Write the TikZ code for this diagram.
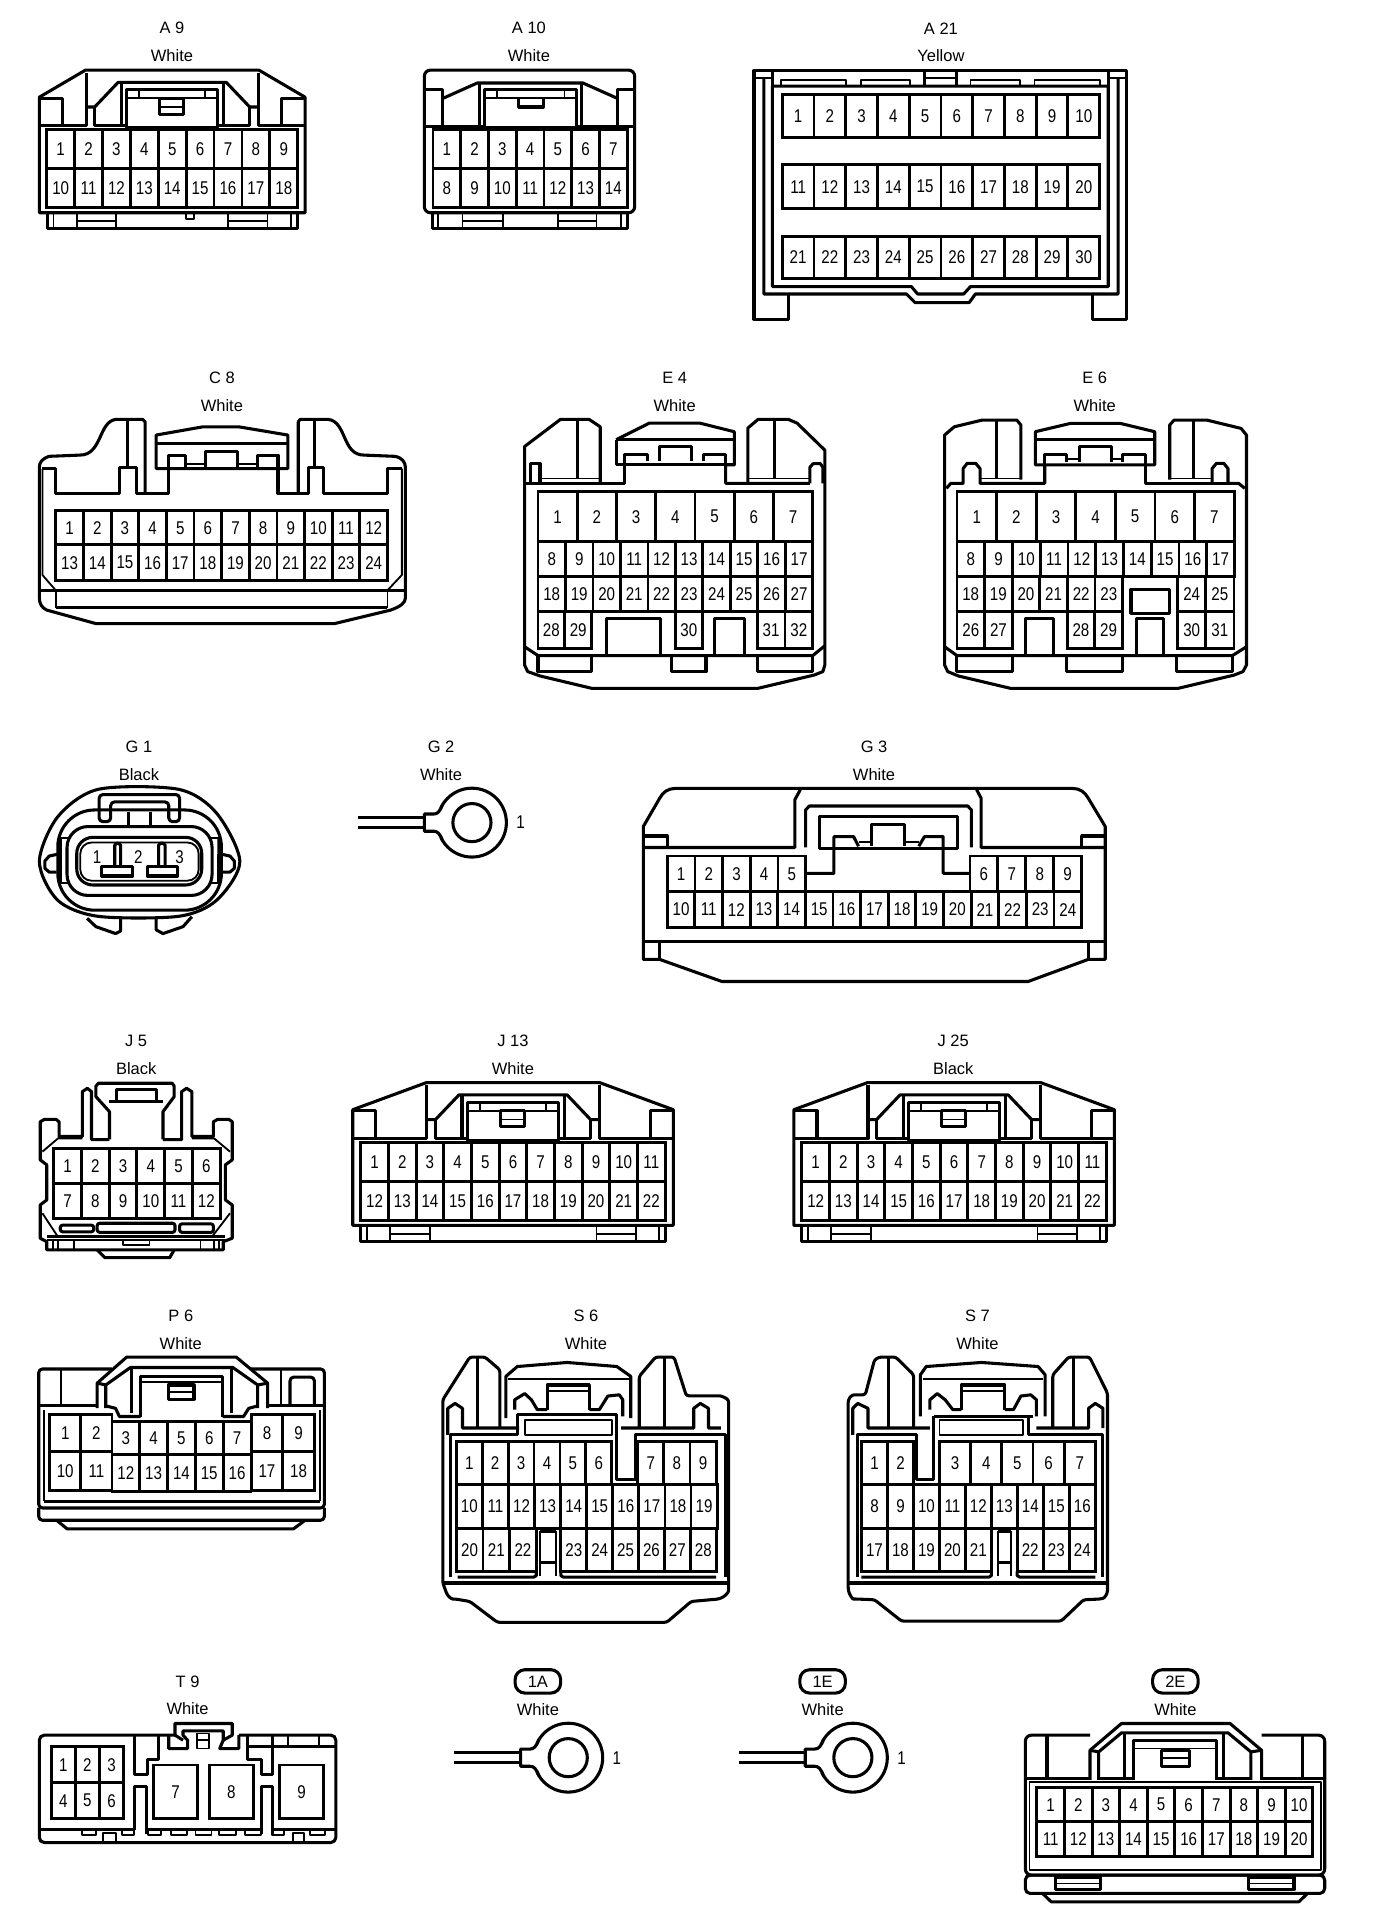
\documentclass[tikz,border=0pt]{standalone}
\usepackage{fontspec}
\setmainfont{Liberation Sans}
\newfontfamily\pinfont[FakeStretch=0.82]{Liberation Sans}
\usepackage{tikz}

\tikzset{
	body/.style={line width=2.5pt,line join=round},
	thinline/.style={line width=1.5pt,line join=round},
	pin/.style={line width=2.3pt,line join=miter},
	pinno/.style={font=\pinfont\fontsize{15}{15}\selectfont,inner sep=0pt},
	caption/.style={font=\fontsize{13.4}{14}\selectfont,inner sep=0pt},
	pill/.style={draw,line width=2.5pt,rounded corners=8pt,minimum width=37pt,minimum height=19pt,inner sep=0pt,font=\fontsize{13.4}{14}\selectfont}
}

% one row of numbered cavities: name, x, cell width, top, bottom, first, last
\newcommand{\pinrow}[7]{
	\foreach \n [count=\k from 0] in {#6,...,#7} {
		\pgfmathsetmacro{\xa}{#2+\k*#3}
		\pgfmathsetmacro{\xb}{#2+(\k+1)*#3}
		\draw[pin] (\xa,#4) rectangle (\xb,#5) node[pinno,midway] (#1-\n) {\n};
	}
}
% connector name and colour
\newcommand{\conntag}[5]{
	\node[caption] (#1-name) at (#2,#3) {#4};
	\node[caption] (#1-colour) at (#2,#3+22.5) {#5};
}
% housing with the sloped shoulders, drawn about its centre line
\newcommand{\wedgehousing}[1]{
	\draw[body] (-#1,22) -- (-70.5,0) -- (70.5,0) -- (#1,22) -- (#1,116) -- (-#1,116) -- cycle;
	\draw[body] (-#1,23) -- (-#1+18.8,23) -- (-#1+18.8,45.4);
	\draw[body] (#1,23) -- (#1-18.8,23) -- (#1-18.8,45.4);
	\draw[body] (-#1,45.4) -- (-70,45.4) -- (-70,2);
	\draw[body] (#1,45.4) -- (70,45.4) -- (70,2);
	\draw[body] (-70,30) -- (-63,30) -- (-44,10) -- (44,10) -- (63,30) -- (70,30);
	\draw[body] (-63,30) -- (-63,45.4) -- (-37,45.4);
	\draw[body] (63,30) -- (63,45.4) -- (37,45.4);
	\draw[body] (-41.5,10) -- (-41.5,45);
	\draw[body] (41.5,10) -- (41.5,45);
	\draw[body] (-37,46.8) -- (-37,16) -- (37,16) -- (37,46.8) -- cycle;
	\draw[thinline] (-37,23) -- (37,23);
	\draw[thinline] (-27,16) -- (-27,23);
	\draw[thinline] (27,16) -- (27,23);
	\draw[body] (-10.5,23) rectangle (9.5,36);
	\draw[thinline] (-10.5,30) -- (9.5,30);
	\draw[body] (-#1+6.5,116) rectangle (#1-6.5,129);
	\draw[thinline] (-#1+11.5,116) -- (-#1+11.5,129);
	\draw[thinline] (#1-11.5,116) -- (#1-11.5,129);
	\draw[thinline] (-#1+30.5,116) -- (-#1+30.5,129);
	\draw[thinline] (-#1+62.5,116) -- (-#1+62.5,129);
	\draw[thinline] (-#1+30.5,123) -- (-#1+62.5,123);
	\draw[thinline] (#1-30.5,116) -- (#1-30.5,129);
	\draw[thinline] (#1-62.5,116) -- (#1-62.5,129);
	\draw[thinline] (#1-30.5,123) -- (#1-62.5,123);
}
% eyelet terminal on its wire
\newcommand{\ringlug}[3]{
	\begin{scope}[shift={(#2,#3)}]
		\draw[body] (-92.7,-4) -- (-38.7,-4);
		\draw[body] (-92.7,4) -- (-38.7,4);
		\draw[body,fill=white] (0,0) circle[radius=28pt];
		\fill[white] (-38.7,-7) -- (-31,-7) -- (-23.7,-15) -- (-12,0) -- (-23.7,15) -- (-31,7) -- (-38.7,7) -- cycle;
		\draw[body] (-23.7,-15) .. controls (-26,-9) and (-28,-7) .. (-31,-7) -- (-38.7,-7) -- (-38.7,7) -- (-31,7) .. controls (-28,7) and (-26,9) .. (-23.7,15);
		\draw[body] (0,0) circle[radius=15.5pt];
		\node[pinno] (#1-pin) at (39.5,0) {1};
	\end{scope}
}

\begin{document}
\begin{tikzpicture}[x=1pt,y=-1pt]
	\useasboundingbox (0,0) rectangle (1118.7,1567.5);

	% A 9
	\conntag{A9}{139.8}{23}{A 9}{White}
	\begin{scope}[shift={(140,57)}]
		\wedgehousing{108}
	\end{scope}
	\draw[thinline] (151,173) -- (151,178) -- (158,178) -- (158,173);
	\pinrow{A9}{38}{22.67}{105}{137}{1}{9}
	\pinrow{A9}{38}{22.67}{137}{169}{10}{18}

	% A 10
	\conntag{A10}{430}{23}{A 10}{White}
	\draw[body,rounded corners=5pt] (345,173) -- (345,57) -- (516,57) -- (516,173) -- cycle;
	\draw[body] (345,73) -- (360,73) -- (360,102);
	\draw[body] (516,73) -- (502,73) -- (502,102);
	\draw[body] (345,102.6) -- (394,102.6);
	\draw[body] (469,102.6) -- (516,102.6);
	\draw[body] (360,80) -- (388,67.5) -- (474,67.5) -- (502,80);
	\draw[body] (389.5,67.5) -- (389.5,102);
	\draw[body] (472.5,67.5) -- (472.5,102);
	\draw[body] (394,104) rectangle (469,73);
	\draw[thinline] (394,80) -- (469,80);
	\draw[thinline] (404,73) -- (404,80);
	\draw[thinline] (459,73) -- (459,80);
	\draw[body] (421.6,80) -- (421.6,87) -- (441.6,87) -- (441.6,80);
	\pinrow{A10}{352}{22.57}{105}{137}{1}{7}
	\pinrow{A10}{352}{22.57}{137}{169}{8}{14}
	\draw[body] (352,173) rectangle (510,186);
	\draw[thinline] (356,173) -- (356,186);
	\draw[thinline] (505,173) -- (505,186);
	\draw[thinline] (376,173) -- (376,186);
	\draw[thinline] (409,173) -- (409,186);
	\draw[thinline] (376,180) -- (409,180);
	\draw[thinline] (454,173) -- (454,186);
	\draw[thinline] (485,173) -- (485,186);
	\draw[thinline] (454,180) -- (485,180);

	% A 21
	\conntag{A21}{765}{23}{A 21}{Yellow}
	\draw[body] (641,240) -- (641,259.5) -- (613,259.5) -- (613,57.5) -- (916,57.5) -- (916,259.5) -- (888.5,259.5) -- (888.5,240);
	\draw[body] (621,63.5) -- (621,239) -- (737,239) -- (744,246) -- (788,246) -- (793,239) -- (909,239) -- (909,63.5);
	\draw[body] (628,70) -- (901,70) -- (901,233) -- (789,233) -- (783.5,239) -- (746,239) -- (741,233) -- (628,233) -- cycle;
	\draw[body] (628,57.5) -- (628,70);
	\draw[body] (901,57.5) -- (901,70);
	\draw[thinline] (613,63.5) -- (628,63.5);
	\draw[thinline] (901,63.5) -- (916,63.5);
	\draw[thinline] (635,70) -- (635,65) -- (688,65) -- (688,70);
	\draw[thinline] (700,70) -- (700,65) -- (740,65) -- (740,70);
	\draw[thinline] (789,70) -- (789,65) -- (829,65) -- (829,70);
	\draw[thinline] (841,70) -- (841,65) -- (894,65) -- (894,70);
	\draw[body] (751.5,57.5) -- (751.5,70);
	\draw[body] (778,57.5) -- (778,70);
	\draw[thinline] (751.5,63.5) -- (778,63.5);
	\pinrow{A21}{636}{25.8}{77}{111.5}{1}{10}
	\pinrow{A21}{636}{25.8}{134}{169.6}{11}{20}
	\pinrow{A21}{636}{25.8}{192}{226.5}{21}{30}

	% C 8
	\conntag{C8}{180.4}{307}{C 8}{White}
	\draw[body] (118,401) -- (118,343) -- (116,341) -- (94,341) .. controls (80,343) and (83,370) .. (65,370) -- (40,371) .. controls (34,373) and (32,376) .. (32,380) -- (32,486) .. controls (32,491) and (34,494) .. (38,496) -- (78,507) -- (272,507) -- (317.6,496) .. controls (326,493) and (329.6,490) .. (329.6,486) -- (329.6,380) .. controls (329.6,376) and (327,372) .. (321,371) -- (296,370) .. controls (278,370) and (282,343) .. (267,341) -- (244,341) -- (242.5,343) -- (242.5,401);
	\draw[thinline] (34.5,381) -- (34.5,467.5) -- (45.4,480);
	\draw[thinline] (326.7,381) -- (326.7,467.5) -- (315,480);
	\draw[body] (34.5,381) -- (45.4,381) -- (45.4,401) -- (97,401) -- (97,380) -- (110.7,380) -- (110.7,401) -- (137,401) -- (137,370) -- (150.6,370) -- (150.6,380);
	\draw[body] (326.7,381) -- (315,381) -- (315,401) -- (263,401) -- (263,380) -- (250.5,380) -- (250.5,401) -- (226,401) -- (226,370) -- (209,370) -- (209,380);
	\draw[body] (103.5,341) -- (103.5,380);
	\draw[body] (256,341) -- (256,380);
	\draw[body] (127,353.7) -- (165,347) -- (194,347) -- (234,353.7) -- (234,381) -- (127,381) -- cycle;
	\draw[body] (127,360.5) -- (234,360.5);
	\draw[body] (167,380) -- (167,367) -- (193,367) -- (193,380);
	\draw[thinline] (150.6,377) -- (167,377);
	\draw[thinline] (193,377) -- (209,377);
	\pinrow{C8}{45.4}{22.47}{415.2}{443}{1}{12}
	\pinrow{C8}{45.4}{22.47}{443}{472}{13}{24}
	\draw[body] (32,480) -- (329.6,480);
	\draw[body] (45.4,494) -- (315,494);
	\draw[thinline] (45.4,480) -- (45.4,494);
	\draw[thinline] (315,480) -- (315,494);

	% E 4
	\conntag{E4}{548.5}{307}{E 4}{White}
	\draw[body] (488,392) -- (488,347) -- (479,341) -- (455.6,341) -- (426.5,363) -- (426.5,540.7) -- (429,546) -- (439.2,549.6) -- (481,559.6) -- (616.3,559.6) -- (662,548.8) -- (669,546) -- (670.6,540.7) -- (670.6,366) -- (648,344) -- (641,341) -- (616.3,341) -- (608,348) -- (608,392);
	\draw[body] (501,357.5) -- (528,344) -- (569,344) -- (597,351) -- (597,378) -- (590,378) -- (590,393) -- (658.4,393);
	\draw[body] (501,357.5) -- (501,378) -- (507.5,378) -- (507.5,393) -- (426.5,393);
	\draw[body] (501,357.5) -- (597,357.5);
	\draw[body] (507.5,378) -- (507.5,369.4) -- (526.4,369.4) -- (526.4,375);
	\draw[body] (590,378) -- (590,369.4) -- (572,369.4) -- (572,375);
	\draw[body] (536.5,375) -- (536.5,363) -- (562,363) -- (562,375);
	\draw[body] (501,378) -- (597,378);
	\draw[body] (431,393) -- (431,377) -- (439,377) -- (439,393);
	\draw[body] (658.4,393) -- (658.4,380) -- (661,377) -- (667,377) -- (669,380) -- (669,393);
	\draw[body] (469.4,341) -- (469.4,389);
	\draw[body] (629.3,341) -- (629.3,389);
	\draw[thinline] (439,389) -- (488,389);
	\draw[thinline] (608,389) -- (658.4,389);
	\pinrow{E4}{437.4}{31.9}{399.7}{440.4}{1}{7}
	\pinrow{E4}{437.4}{22.34}{440.4}{468.9}{8}{17}
	\pinrow{E4}{437.4}{22.34}{468.9}{497.3}{18}{27}
	\pinrow{E4}{437.4}{21.8}{497.3}{527}{28}{29}
	\pinrow{E4}{549}{22}{497.3}{527}{30}{30}
	\pinrow{E4}{615.6}{22.6}{497.3}{527}{31}{32}
	\draw[body] (493,533) -- (493,502.7) -- (537,502.7) -- (537,533);
	\draw[body] (581,533) -- (581,502.7) -- (605,502.7) -- (605,533);
	\draw[body] (426.5,525.8) -- (437.4,533) -- (660.8,533) -- (670.6,525);
	\draw[body] (437.4,533) -- (437.4,546) -- (481,546) -- (481,533);
	\draw[body] (545.6,533) -- (545.6,546) -- (574,546) -- (574,533);
	\draw[body] (615.6,533) -- (615.6,546) -- (660.8,546) -- (660.8,533);

	% E 6
	\conntag{E6}{890}{307}{E 6}{White}
	\draw[body] (830,390) -- (830,345.5) -- (826.6,341.5) -- (798.6,341.5) -- (775.8,347) -- (768,353.7) -- (768,540.7) -- (770.5,546) -- (779.3,549.6) -- (821.4,559.6) -- (958,559.6) -- (1003.6,548.8) -- (1010.6,546) -- (1013.4,540.7) -- (1013.4,353.7) -- (1009,348.3) -- (981,341.5) -- (954.6,341.5) -- (951,345.5) -- (951,390);
	\draw[body] (841.7,351) -- (870.4,344.2) -- (910.7,344.2) -- (938.8,351) -- (938.8,378) -- (841.7,378) -- cycle;
	\draw[body] (841.7,357.2) -- (938.8,357.2);
	\draw[body] (849.4,378) -- (849.4,393) -- (796.8,393) -- (796.8,381) -- (793.3,376.7) -- (786.3,376.7) -- (783,381) -- (783,393) -- (773,393) -- (769.5,397);
	\draw[body] (931,378) -- (931,393) -- (998.4,393);
	\draw[body] (985.4,393) -- (985.4,381) -- (989,376.7) -- (995,376.7) -- (998.4,381) -- (998.4,393) -- (1007,393) -- (1012,397);
	\draw[body] (849.4,378) -- (849.4,369.4) -- (867,369.4) -- (867,376);
	\draw[body] (931,378) -- (931,369.4) -- (912.5,369.4) -- (912.5,376);
	\draw[body] (877.4,376) -- (877.4,363.2) -- (903.7,363.2) -- (903.7,376);
	\draw[thinline] (867,373.5) -- (877.4,373.5);
	\draw[thinline] (903.7,373.5) -- (912.5,373.5);
	\draw[body] (810,341.5) -- (810,389);
	\draw[body] (970.3,341.5) -- (970.3,389);
	\draw[thinline] (796.8,389) -- (830,389);
	\draw[thinline] (951,389) -- (985.4,389);
	\pinrow{E6}{778}{32.2}{399.7}{440.4}{1}{7}
	\pinrow{E6}{778}{22.56}{440.4}{468.9}{8}{17}
	\pinrow{E6}{778}{22.45}{468.9}{497.3}{18}{23}
	\pinrow{E6}{957.4}{22.9}{468.9}{497.3}{24}{25}
	\pinrow{E6}{778}{22.5}{497.3}{527}{26}{27}
	\pinrow{E6}{867.6}{22.45}{497.3}{527}{28}{29}
	\pinrow{E6}{957.4}{22.9}{497.3}{527}{30}{31}
	\draw[body] (919.5,479.2) rectangle (951,498.7);
	\draw[body] (833.6,533) -- (833.6,502.7) -- (856.4,502.7) -- (856.4,533);
	\draw[body] (923.7,533) -- (923.7,502.7) -- (945.8,502.7) -- (945.8,533);
	\draw[body] (768,525.8) -- (778,533) -- (1002,533) -- (1013.4,525.8);
	\draw[body] (778,533) -- (778,546) -- (823,546) -- (823,533);
	\draw[body] (867,533) -- (867,546) -- (912.5,546) -- (912.5,533);
	\draw[body] (956.3,533) -- (956.3,546) -- (1002,546) -- (1002,533);

	% G 1
	\conntag{G1}{113}{607}{G 1}{Black}
	\draw[body] plot[smooth cycle] coordinates {(32,700.5) (47,664) (80,641.7) (145,641.7) (176,661) (195,700.5) (176,732) (145,745) (80,745) (47,732)};
	\draw[body,rounded corners=30pt] (47,658.5) rectangle (180,740);
	\draw[body,rounded corners=17pt] (54.5,672) rectangle (172.4,728);
	\draw[body,rounded corners=13pt] (62.4,680.8) rectangle (164,719.5);
	\draw[thinline,rounded corners=9pt] (65.3,685) rectangle (161.5,716);
	\draw[body,rounded corners=3pt] (90,668) -- (80.6,668) -- (80.6,646) -- (146,646) -- (146,668) -- (137.2,668) -- (137.2,652) -- (90,652) -- cycle;
	\draw[thinline] (90,658.5) -- (137.2,658.5);
	\draw[body] (104.5,660) -- (104.5,672);
	\draw[body] (122.3,660) -- (122.3,672);
	\draw[body] (49,681) -- (49,694) -- (40,696) -- (36.5,700) -- (36.5,706) -- (40,709) -- (46,709);
	\draw[body] (178,681) -- (178,694) -- (187,696) -- (190.5,700) -- (190.5,706) -- (187,709) -- (181,709);
	\draw[thinline] (49,681) -- (56,681);
	\draw[thinline] (49,718) -- (56,718);
	\draw[thinline] (171,681) -- (178,681);
	\draw[thinline] (171,718) -- (178,718);
	\draw[body] (49,694) -- (49,718);
	\draw[body] (178,694) -- (178,718);
	\draw[body,rounded corners=1.5pt] (93.3,704) -- (93.3,685.6) -- (98,685.6) -- (98,704);
	\draw[body,rounded corners=1.5pt] (128.9,704) -- (128.9,685.6) -- (134.3,685.6) -- (134.3,704);
	\draw[body] (82.8,704.6) rectangle (107.8,712.2);
	\draw[body] (119.8,704.6) rectangle (144.5,712.2);
	\draw[body] (70.8,746.6) -- (78,753.4) -- (94,759) -- (98,757) -- (98,746);
	\draw[body] (127,746) -- (127,756) -- (132.5,759) -- (148.8,753.4) -- (156,745.3);
	\node[pinno] (G1-1) at (79,697) {1};
	\node[pinno] (G1-2) at (112.5,697) {2};
	\node[pinno] (G1-3) at (146,697) {3};

	% G 2
	\conntag{G2}{358.6}{607}{G 2}{White}
	\ringlug{G2}{383.7}{668.8}

	% G 3
	\conntag{G3}{710.6}{607}{G 3}{White}
	\draw[body] (523,780) -- (523,672) -- (536.3,649) .. controls (539,644) and (543,641) .. (549,641) -- (872,641) .. controls (878,641) and (882,644) .. (884.8,649) -- (898.6,672) -- (898.6,780) -- (884.8,780) -- (835.8,798) -- (587,798) -- (536.3,780) -- cycle;
	\draw[body] (523,689) -- (646.3,689) -- (646.3,650) -- (650.7,642);
	\draw[body] (898.6,689) -- (797.7,689) -- (797.7,649) -- (794,642);
	\draw[body] (523,679.7) -- (542.5,679.7) -- (542.5,689);
	\draw[body] (898.6,679.7) -- (879.4,679.7) -- (879.4,689);
	\draw[body] (655,689) -- (655,658.5) -- (658,655.3) -- (786.8,655.3) -- (789.7,658.5) -- (789.7,689);
	\draw[body] (666,664) rectangle (778.5,689.7);
	\draw[body] (655,710) -- (678,710) -- (678,680.2) -- (694,680.2) -- (698,688);
	\draw[body] (788.6,710) -- (766.8,710) -- (766.8,680.2) -- (751.6,680.2) -- (747,688);
	\draw[body] (708.8,688) -- (708.8,670) -- (735,670) -- (735,688);
	\draw[thinline] (698,684.3) -- (708.8,684.3);
	\draw[thinline] (735,684.3) -- (747,684.3);
	\pinrow{G3}{542.5}{22.5}{696}{725}{1}{5}
	\pinrow{G3}{788.6}{22.7}{696}{725}{6}{9}
	\pinrow{G3}{542.5}{22.46}{725}{754}{10}{24}
	\draw[body] (523,765.6) -- (898.6,765.6);
	\draw[body] (536.3,766) -- (536.3,780);
	\draw[body] (884.8,766) -- (884.8,780);

	% J 5
	\conntag{J5}{110.7}{846}{J 5}{Black}
	\draw[body] (89,926.3) -- (89,903.8) -- (78,891.6) -- (78,883) -- (80,880.7) -- (140,880.7) -- (141.6,883) -- (141.6,891.6) -- (132.5,903.8) -- (132.5,926.3);
	\draw[body] (89,926.5) -- (74.4,926.5) -- (74.4,887.5) -- (71,884.8) -- (67,887.5) -- (67,924) -- (48,924) -- (48,912) -- (45.4,910) -- (36.3,910) -- (32.7,912) -- (32.7,943) -- (38,947) -- (38,975.6) -- (32.7,979.6) -- (32.7,1006.7) -- (38,1009.5) -- (38,1016.2) -- (181.5,1016.2) -- (181.5,1009.5) -- (188.8,1006.7) -- (188.8,979.6) -- (183.3,975.6) -- (183.3,947) -- (188.8,943) -- (188.8,912) -- (186,910) -- (177,910) -- (173.5,912) -- (173.5,924) -- (156,924) -- (156,887.5) -- (151.7,884.8) -- (147.7,887.5) -- (147.7,926.5) -- (132.5,926.5);
	\draw[body] (95,894) -- (95,886) -- (127,886) -- (127,894);
	\draw[body] (89,895.6) -- (132.5,895.6);
	\draw[thinline] (34.5,936.3) -- (47.2,925.5) -- (67,925.5);
	\draw[thinline] (187,936.3) -- (174,925.5) -- (156,925.5);
	\pinrow{J5}{43.6}{22.57}{933.6}{962}{1}{6}
	\pinrow{J5}{43.6}{22.57}{962}{990.5}{7}{12}
	\draw[thinline] (34.5,986.4) -- (47,1005.4);
	\draw[thinline] (187,986.4) -- (172.4,1005.4);
	\draw[body,rounded corners=2pt] (49,996) rectangle (76.2,1001.5);
	\draw[body,rounded corners=2pt] (79,994.5) rectangle (142.3,1001.9);
	\draw[body,rounded corners=2pt] (146,995) rectangle (173.5,1001.9);
	\draw[body] (38,1005.4) -- (183,1005.4);
	\draw[thinline] (38,1008) -- (183,1008);
	\draw[thinline] (43,1008) -- (43,1016);
	\draw[thinline] (47,1008) -- (47,1016);
	\draw[thinline] (60,1008) -- (60,1016);
	\draw[thinline] (163,1008) -- (163,1016);
	\draw[thinline] (174,1008) -- (174,1016);
	\draw[thinline] (178,1008) -- (178,1016);
	\draw[thinline] (99.8,1009) -- (99.8,1012) -- (121.6,1012) -- (121.6,1009);
	\draw[body] (79,1016.2) -- (85.3,1022.5) -- (138,1022.5) -- (141.6,1016.2);

	% J 13
	\conntag{J13}{417}{846}{J 13}{White}
	\begin{scope}[shift={(417.1,880.2)}]
		\wedgehousing{130.3}
	\end{scope}
	\pinrow{J13}{293.3}{22.5}{929}{960.7}{1}{11}
	\pinrow{J13}{293.3}{22.5}{960.7}{992}{12}{22}

	% J 25
	\conntag{J25}{775}{846}{J 25}{Black}
	\begin{scope}[shift={(775.7,880.2)}]
		\wedgehousing{130.3}
	\end{scope}
	\pinrow{J25}{651.9}{22.5}{929}{960.7}{1}{11}
	\pinrow{J25}{651.9}{22.5}{960.7}{992}{12}{22}

	% P 6
	\conntag{P6}{147}{1069.5}{P 6}{White}
	\draw[body,rounded corners=3pt] (91,1113) -- (31.5,1113) -- (31.5,1226) -- (263.7,1226) -- (263.7,1113) -- (204,1113);
	\draw[body,rounded corners=3pt] (31.5,1226) -- (31.5,1236) -- (263.7,1236) -- (263.7,1226);
	\draw[body] (79,1144.8) -- (79,1124.5) -- (103,1103.3) -- (192,1103.3) -- (217.6,1124.5) -- (217.6,1144.8);
	\draw[body] (86,1144.8) -- (86,1126) -- (106,1111.8) -- (189.3,1111.8) -- (209.5,1126) -- (209.5,1144.8);
	\draw[body] (79,1124.5) -- (86,1126);
	\draw[body] (217.6,1124.5) -- (209.5,1126);
	\draw[body] (107,1111.8) -- (107,1149);
	\draw[body] (188,1111.8) -- (188,1149);
	\draw[body] (114.4,1152) -- (114.4,1119) -- (181,1119) -- (181,1152);
	\draw[thinline] (114.4,1123.5) -- (181,1123.5);
	\draw[body] (136.7,1126) rectangle (157.7,1137.5);
	\draw[thinline] (136.7,1131.5) -- (157.7,1131.5);
	\draw[thinline] (49.3,1113.6) -- (49.3,1142);
	\draw[thinline] (228.5,1113.6) -- (228.5,1142);
	\draw[body,rounded corners=3pt] (235.8,1142) -- (235.8,1119.6) -- (255.6,1119.6) -- (255.6,1142);
	\draw[body] (31.5,1143) -- (79,1143);
	\draw[body] (217.6,1143) -- (263.7,1143);
	\draw[body] (86,1143) -- (94,1145) -- (97,1151.6) -- (114.4,1151.6);
	\draw[body] (209.5,1143) -- (202.2,1145) -- (198,1151.6) -- (181,1151.6);
	\draw[thinline] (35.6,1146) -- (35.6,1220.7);
	\draw[thinline] (260.3,1146) -- (260.3,1220.7);
	\pinrow{P6}{40.4}{25.3}{1149.7}{1180}{1}{2}
	\pinrow{P6}{40.4}{25.3}{1180}{1211.8}{10}{11}
	\pinrow{P6}{91}{22.6}{1155.7}{1182.8}{3}{7}
	\pinrow{P6}{91}{22.6}{1182.8}{1212.6}{12}{16}
	\pinrow{P6}{204.2}{25.7}{1149.7}{1180}{8}{9}
	\pinrow{P6}{204.2}{25.7}{1180}{1211.8}{17}{18}
	\draw[body] (35.6,1220.7) -- (260.3,1220.7);
	\draw[body] (46.5,1236.4) -- (54.6,1243) -- (238.6,1243) -- (247.5,1236.4);

	% S 6
	\conntag{S6}{476.4}{1069.5}{S 6}{White}
	\draw[body,rounded corners=2pt] (406.4,1161) -- (406.4,1113.7) -- (394.3,1103.3) -- (382,1103.3) -- (360,1138) -- (360,1287) -- (362,1292.5) .. controls (364,1298) and (367,1300) .. (370,1300) -- (382,1302) -- (404.4,1319) -- (542,1319) -- (562,1302) -- (584.4,1300) .. controls (589,1298) and (592.4,1295) .. (592.4,1291) -- (592.4,1138) -- (586.4,1134.8) -- (558,1134.8) -- (548,1103.3) -- (533,1103.3) -- (519.7,1119) -- (519.7,1161);
	\draw[body] (388.2,1103.3) -- (388.2,1161);
	\draw[body] (540,1103.3) -- (540,1161);
	\draw[body] (411.3,1153) -- (411.3,1119) -- (420.6,1111) -- (461,1107.7) -- (501.5,1111) -- (512.8,1119) -- (512.8,1153);
	\draw[thinline] (413,1121) -- (511,1121);
	\draw[body] (444.8,1146) -- (444.8,1126) -- (479.2,1126) -- (479.2,1146);
	\draw[thinline] (444.8,1131) -- (479.2,1131);
	\draw[body] (418.5,1146) -- (418.5,1138) -- (426.6,1133) -- (432,1138) -- (436.8,1146) -- (444.8,1146);
	\draw[body] (479.2,1146) -- (487.3,1146) -- (494.2,1135) -- (503.5,1134) -- (506.3,1138) -- (506.3,1151.6);
	\draw[body] (420.6,1149.7) -- (501.5,1149.7);
	\draw[thinline] (426.6,1154.5) rectangle (497.4,1166.5);
	\draw[body] (420.6,1149.7) -- (420.6,1166.5) -- (366,1166.5) -- (366,1282);
	\draw[body] (501.5,1150) -- (501.5,1203) -- (516.8,1203) -- (516.8,1166.5) -- (589.6,1166.5) -- (589.6,1282);
	\draw[body] (364,1166.5) -- (364,1145) -- (370,1141) -- (376,1145) -- (376,1161) -- (422,1161);
	\draw[body] (505,1161) -- (564,1161) -- (564,1145) -- (569.4,1141) -- (576,1145) -- (576,1161) -- (586,1161);
	\pinrow{S6}{371}{21.07}{1172}{1207}{1}{6}
	\pinrow{S6}{518.4}{21.3}{1172}{1207}{7}{9}
	\pinrow{S6}{371}{21.2}{1207}{1242.4}{10}{19}
	\pinrow{S6}{371}{21.67}{1242.4}{1277.6}{20}{22}
	\pinrow{S6}{456}{21.05}{1242.4}{1277.6}{23}{28}
	\draw[thinline] (438.8,1245) -- (438.8,1281);
	\draw[thinline] (452,1245) -- (452,1281);
	\draw[body] (438.8,1245) -- (452,1245);
	\draw[body] (438.8,1270) -- (452,1270);
	\draw[body] (436,1277.6) -- (436,1281) -- (434,1282.2) -- (372,1282.2);
	\draw[body] (456,1277.6) -- (456,1281) -- (458,1282.2) -- (582.3,1282.2);
	\draw[body] (360,1287) -- (592.4,1287);

	% S 7
	\conntag{S7}{794.7}{1069.5}{S 7}{White}
	\draw[body,rounded corners=2pt] (742.8,1161) -- (742.8,1117.7) -- (728.2,1103.3) -- (715,1103.3) -- (711,1105.5) -- (703.5,1134) -- (692.7,1134) -- (689.6,1138) -- (689.6,1292.5) .. controls (691,1297) and (693,1300) .. (695.8,1300) -- (711,1300.6) -- (733,1318) -- (862.7,1318) -- (881,1300.6) -- (895,1300) .. controls (898,1299) and (900.4,1296) .. (900.4,1291) -- (900.4,1132.6) -- (885.8,1103.3) -- (868.8,1103.3) -- (855.9,1117.7) -- (855.9,1161);
	\draw[body] (722.7,1103.3) -- (722.7,1161);
	\draw[body] (872.5,1103.3) -- (872.5,1161);
	\draw[body] (748.3,1151.6) -- (748.3,1117.7) -- (753,1111) -- (797.8,1107.7) -- (844,1111) -- (849.7,1117.7) -- (849.7,1151.6);
	\draw[thinline] (750,1121) -- (848,1121);
	\draw[body] (781.7,1146) -- (781.7,1126) -- (817,1126) -- (817,1146);
	\draw[thinline] (781.7,1131) -- (817,1131);
	\draw[body] (756,1146) -- (756,1138) -- (762,1133) -- (768.4,1138) -- (774.6,1146) -- (781.7,1146);
	\draw[body] (817,1146) -- (824,1146) -- (830,1135) -- (838,1134) -- (842.6,1138) -- (842.6,1151.6);
	\draw[body] (759,1151.6) -- (839.5,1151.6);
	\draw[thinline] (763.8,1154.5) rectangle (831.8,1166.5);
	\draw[body] (759,1151.6) -- (759,1203) -- (745.2,1203) -- (745.2,1166.5) -- (697.3,1166.5) -- (697.3,1282);
	\draw[body] (836.4,1152) -- (836.4,1166.5) -- (896.7,1166.5) -- (896.7,1282);
	\draw[body] (693.3,1166.5) -- (693.3,1145) -- (697.3,1141) -- (705.7,1145) -- (705.7,1161) -- (756,1161);
	\draw[body] (842.6,1161) -- (885,1161) -- (885,1145) -- (890.5,1141) -- (896.7,1145) -- (896.7,1161);
	\pinrow{S7}{700.4}{21.2}{1172}{1207}{1}{2}
	\pinrow{S7}{763.8}{25.34}{1172}{1207}{3}{7}
	\pinrow{S7}{700.4}{21.12}{1207}{1242.4}{8}{16}
	\pinrow{S7}{700.4}{21.12}{1242.4}{1277.6}{17}{21}
	\pinrow{S7}{827}{21.17}{1242.4}{1277.6}{22}{24}
	\draw[thinline] (811.7,1245) -- (811.7,1281);
	\draw[thinline] (821.9,1245) -- (821.9,1281);
	\draw[body] (811.7,1245) -- (821.9,1245);
	\draw[body] (811.7,1270) -- (821.9,1270);
	\draw[body] (806,1277.6) -- (806,1281) -- (804,1282.2) -- (700.4,1282.2);
	\draw[body] (827,1277.6) -- (827,1281) -- (829,1282.2) -- (890.5,1282.2);
	\draw[body] (689.6,1287) -- (900.4,1287);

	% T 9
	\conntag{T9}{152.5}{1367}{T 9}{White}
	\draw[body,rounded corners=4pt] (142.3,1410.7) -- (32,1410.7) -- (32,1498) -- (273,1498) -- (273,1410.7) -- (194.2,1410.7);
	\draw[body] (137.2,1410.7) -- (137.2,1421.6) -- (152.5,1421.6) -- (152.5,1414.8) -- (148.8,1410.7) -- (148.8,1407.2) -- (181.5,1407.2) -- (181.5,1414.8) -- (178.6,1421.6) -- (194.2,1421.6) -- (194.2,1410.7);
	\draw[body] (148.8,1414.8) -- (142.3,1410.7) -- (142.3,1401.2) -- (188.8,1401.2) -- (188.8,1410.7) -- (181.5,1414.8);
	\draw[thinline] (160.4,1409.4) rectangle (170,1421.6);
	\draw[thinline] (160.4,1414.5) -- (170,1414.5);
	\draw[body] (109,1410.7) -- (109,1443) -- (119.8,1443) -- (119.8,1430.5) -- (128.9,1430.5) -- (128.9,1410.7);
	\draw[body] (201.5,1420.2) -- (201.5,1430.5) -- (212.4,1430.5) -- (212.4,1443) -- (221.4,1443) -- (221.4,1410.7);
	\draw[body] (201.5,1410.7) -- (201.5,1420.2) -- (273,1420.2);
	\draw[thinline] (234,1410.7) -- (234,1420.2);
	\draw[thinline] (259.5,1410.7) -- (259.5,1420.2);
	\draw[body] (109.6,1487.4) -- (109.6,1452.7) -- (119,1452.7) -- (119,1491);
	\draw[body] (212.4,1491) -- (212.4,1452.7) -- (221.4,1452.7) -- (221.4,1491);
	\draw[body] (32,1487.4) -- (109.6,1487.4);
	\draw[body] (119,1487.4) -- (212.4,1487.4);
	\draw[body] (221.4,1487.4) -- (273,1487.4);
	\foreach \xa/\xb in {67/78,99/109,120/131,139/152,159/172,178/192,199/212.4,221.4/231,252/264} {
		\draw[thinline] (\xa,1487.4) -- (\xa,1492) -- (\xb,1492) -- (\xb,1487.4);
	}
	\draw[thinline] (84,1490) rectangle (94,1498);
	\draw[thinline] (238,1490) rectangle (247,1498);
	\pinrow{T9}{41.7}{19.6}{1420.2}{1449.5}{1}{3}
	\pinrow{T9}{41.7}{19.6}{1449.5}{1478.5}{4}{6}
	\pinrow{T9}{124.5}{36.3}{1435}{1478.5}{7}{7}
	\pinrow{T9}{170}{36.2}{1435}{1478.5}{8}{8}
	\pinrow{T9}{227.2}{36}{1435}{1478.5}{9}{9}

	% 1 A
	\node[pill] (P1A) at (437.3,1367) {1A};
	\node[caption] (P1A-colour) at (437.3,1389.6) {White};
	\ringlug{R1A}{462}{1429}

	% 1 E
	\node[pill] (P1E) at (668.8,1367) {1E};
	\node[caption] (P1E-colour) at (668.8,1389.6) {White};
	\ringlug{R1E}{693.4}{1429}

	% 2 E
	\node[pill] (P2E) at (955.6,1367) {2E};
	\node[caption] (P2E-colour) at (955.6,1389.6) {White};
	\draw[body,rounded corners=5pt] (886.2,1410.7) -- (833.6,1410.7) -- (833.6,1524.5) -- (1077,1524.5) -- (1077,1410.7) -- (1025.7,1410.7);
	\draw[body] (886.2,1447) -- (886.2,1423) -- (911.8,1401.2) -- (1000,1401.2) -- (1025.7,1423) -- (1025.7,1447);
	\draw[body] (893.2,1447) -- (893.2,1424.3) -- (911.8,1408.8) -- (998.4,1408.8) -- (1017,1424.3) -- (1017,1447);
	\draw[body] (886.2,1423) -- (893.2,1424.3);
	\draw[body] (1025.7,1423) -- (1017,1424.3);
	\draw[body] (914.2,1408.8) -- (914.2,1446);
	\draw[body] (995,1408.8) -- (995,1446);
	\draw[body] (921.3,1447.3) -- (921.3,1415.3) -- (989,1415.3) -- (989,1447.3);
	\draw[thinline] (921.3,1421.6) -- (989,1421.6);
	\draw[body] (944,1423) rectangle (966.8,1436);
	\draw[thinline] (944,1429) -- (966.8,1429);
	\draw[body] (851.2,1410.7) -- (851.2,1446);
	\draw[body] (1059,1410.7) -- (1059,1446);
	\draw[body] (833.6,1446) -- (886.2,1446);
	\draw[body] (893.2,1446) -- (921.3,1446);
	\draw[body] (989,1446) -- (1017,1446);
	\draw[body] (1025.7,1446) -- (1077,1446);
	\draw[thinline] (837,1449) rectangle (1073.7,1520.5);
	\pinrow{E2}{843}{22.44}{1453.3}{1481.2}{1}{10}
	\pinrow{E2}{843}{22.44}{1481.2}{1509.6}{11}{20}
	\draw[body,rounded corners=4pt] (833.6,1524.5) rectangle (1077,1539.4);
	\draw[body] (858.2,1526) rectangle (895,1536.2);
	\draw[thinline] (858.2,1531.3) -- (895,1531.3);
	\draw[body] (1015.2,1526) rectangle (1052,1536.2);
	\draw[thinline] (1015.2,1531.3) -- (1052,1531.3);
	\draw[body] (847.6,1539.4) -- (854.7,1546.2) -- (1056,1546.2) -- (1063,1539.4);
\end{tikzpicture}
\end{document}
